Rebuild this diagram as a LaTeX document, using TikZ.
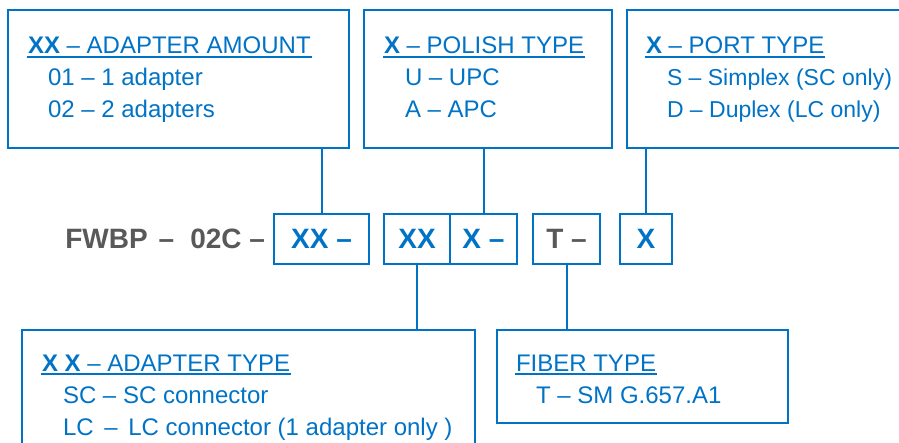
\documentclass[tikz,border=0pt]{standalone}
\usepackage{fontspec}
\setmainfont{Liberation Sans}
\usetikzlibrary{positioning}

\definecolor{fwblue}{RGB}{0,115,198}
\definecolor{fwgray}{RGB}{89,89,89}

\begin{document}
\begin{tikzpicture}[
    x=1pt, y=-1pt, line width=2pt,
    infobox/.style={rectangle, draw=fwblue, anchor=north west, inner sep=0pt, outer sep=0pt},
    codebox/.style={rectangle, draw=fwblue, minimum height=50pt, inner sep=0pt, outer sep=0pt,
        text height=20pt, text depth=0pt, text=fwblue, font=\fontsize{28}{30}\selectfont\bfseries},
    partno/.style={inner sep=0pt, outer sep=0pt, text height=20pt, text depth=0pt,
        text=fwgray, font=\fontsize{28}{30}\selectfont\bfseries},
    head/.style={anchor=base west, inner sep=0pt, text=fwblue, font=\fontsize{24}{26}\selectfont},
    item/.style={head},
    uline/.style={draw=fwblue, line width=2pt},
    link/.style={draw=fwblue}
]
    \clip (0,0) rectangle (899,443);

    % upper boxes
    \node[infobox, minimum width=341pt, minimum height=138pt] (amount) at (8,10) {};
    \node[infobox, minimum width=248pt, minimum height=138pt] (polish) at (364,10) {};
    \node[infobox, minimum width=300pt, minimum height=138pt] (port) at (627,10) {};

    \node[head] (amounthead) at ([shift={(19,44)}]amount.north west) {\textbf{XX} – ADAPTER AMOUNT};
    \node[item] (amount1) at ([shift={(39,76)}]amount.north west) {01 – 1 adapter};
    \node[item] (amount2) at ([shift={(39,108)}]amount.north west) {02 – 2 adapters};

    \node[head] (polishhead) at ([shift={(19,44)}]polish.north west) {\textbf{X} – POLISH TYPE};
    \node[item] (polish1) at ([shift={(40,76)}]polish.north west) {U – UPC};
    \node[item] (polish2) at ([shift={(40,108)}]polish.north west) {A – APC};

    \node[head] (porthead) at ([shift={(18,44)}]port.north west) {\textbf{X} – PORT TYPE};
    \node[item, font=\fontsize{23}{26}\selectfont] (port1) at ([shift={(39,76)}]port.north west) {S – Simplex (SC only)};
    \node[item, font=\fontsize{23}{26}\selectfont] (port2) at ([shift={(39,108)}]port.north west) {D – Duplex (LC only)};

    % code row
    \node[codebox, minimum width=95pt, anchor=north west] (xx1) at (274,214) {XX –};
    \node[codebox, minimum width=66pt] (xx2) [right=15pt of xx1] {XX};
    \node[codebox, minimum width=67pt] (x1) [right=0pt of xx2] {X –};
    \node[codebox, minimum width=67pt, text=fwgray] (t1) [right=16pt of x1] {T –};
    \node[codebox, minimum width=52pt] (x2) [right=20pt of t1] {X};
    \node[partno] (fwbp) [left=9pt of xx1] {FWBP\hspace{11pt}–\hspace{16pt}02C –};

    % lower boxes
    \node[infobox, minimum width=453pt, minimum height=140pt] (adtype) at (22,330) {};
    \node[infobox, minimum width=291pt, minimum height=93pt] (fiber) at (497,330) {};

    \node[head] (adtypehead) at ([shift={(19,41)}]adtype.north west) {\textbf{X X} – ADAPTER TYPE};
    \node[item] (adtype1) at ([shift={(40,73)}]adtype.north west) {SC – SC connector};
    \node[item] (adtype2) at ([shift={(40,105)}]adtype.north west) {LC \,–\, LC connector (1 adapter only )};

    \node[head] (fiberhead) at ([shift={(18,41)}]fiber.north west) {FIBER TYPE};
    \node[item] (fiber1) at ([shift={(38,73)}]fiber.north west) {T – SM G.657.A1};

    % underlines
    \foreach \h in {amounthead, polishhead, porthead, adtypehead, fiberhead}
        \draw[uline] ([yshift=-3pt]\h.base west) -- ([yshift=-3pt]\h.base east);

    % connectors
    \draw[link] (xx1.north) -- (xx1.north |- amount.south);
    \draw[link] (x1.north) -- (x1.north |- polish.south);
    \draw[link] (x2.north) -- (x2.north |- port.south);
    \draw[link] (xx2.south) -- (xx2.south |- adtype.north);
    \draw[link] (t1.south) -- (t1.south |- fiber.north);
\end{tikzpicture}
\end{document}
